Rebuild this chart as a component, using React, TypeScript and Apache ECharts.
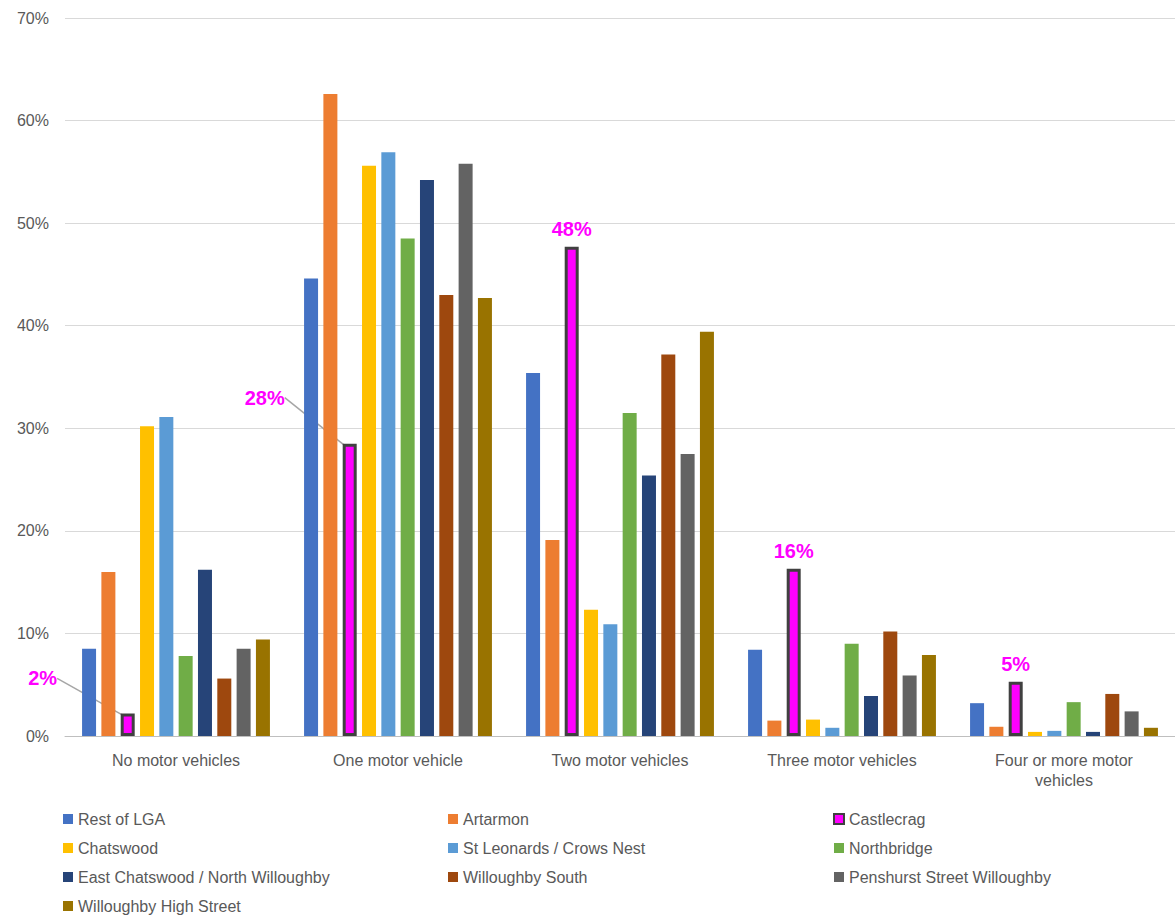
import React, { useEffect, useRef } from 'react';
import * as echarts from 'echarts';

const categories = ['No motor vehicles', 'One motor vehicle', 'Two motor vehicles', 'Three motor vehicles', 'Four or more motor\nvehicles'];

const restOfLga = [8.5, 44.6, 35.4, 8.4, 3.2];
const artarmon = [16.0, 62.6, 19.1, 1.5, 0.9];
const castlecrag = [2.2, 28.5, 47.7, 16.3, 5.3];
const chatswood = [30.2, 55.6, 12.3, 1.6, 0.4];
const stLeonards = [31.1, 56.9, 10.9, 0.8, 0.5];
const northbridge = [7.8, 48.5, 31.5, 9.0, 3.3];
const eastChatswood = [16.2, 54.2, 25.4, 3.9, 0.4];
const willoughbySouth = [5.6, 43.0, 37.2, 10.2, 4.1];
const penshurst = [8.5, 55.8, 27.5, 5.9, 2.4];
const highStreet = [9.4, 42.7, 39.4, 7.9, 0.8];

const castlecragLabels = ['2%', '28%', '48%', '16%', '5%'];

const seriesDefs = [
  { name: 'Rest of LGA', data: restOfLga, color: '#4472c4' },
  { name: 'Artarmon', data: artarmon, color: '#ed7d31' },
  { name: 'Castlecrag', data: castlecrag, color: '#ff00ff' },
  { name: 'Chatswood', data: chatswood, color: '#ffc000' },
  { name: 'St Leonards / Crows Nest', data: stLeonards, color: '#5b9bd5' },
  { name: 'Northbridge', data: northbridge, color: '#70ad47' },
  { name: 'East Chatswood / North Willoughby', data: eastChatswood, color: '#264478' },
  { name: 'Willoughby South', data: willoughbySouth, color: '#9e480e' },
  { name: 'Penshurst Street Willoughby', data: penshurst, color: '#636363' },
  { name: 'Willoughby High Street', data: highStreet, color: '#997300' },
];

const legendCols = [
  ['Rest of LGA', 'Chatswood', 'East Chatswood / North Willoughby', 'Willoughby High Street'],
  ['Artarmon', 'St Leonards / Crows Nest', 'Willoughby South'],
  ['Castlecrag', 'Northbridge', 'Penshurst Street Willoughby'],
];

const App: React.FC = () => {
  const ref = useRef<HTMLDivElement>(null);

  useEffect(() => {
    if (!ref.current) return;
    const chart = echarts.init(ref.current, null, { renderer: 'svg' });
    const font = 'Arial, "Liberation Sans", sans-serif';

    const series = seriesDefs.map((s) => {
      const isCastle = s.name === 'Castlecrag';
      return {
        name: s.name,
        type: 'bar',
        barWidth: 14,
        barGap: '38%',
        data: isCastle
          ? s.data.map((v, i) => ({ value: v, labelLine: { show: i < 2 } }))
          : s.data,
        itemStyle: isCastle
          ? { color: s.color, borderColor: '#404040', borderWidth: 3 }
          : { color: s.color },
        label: isCastle
          ? {
              show: true,
              position: 'top',
              distance: 8,
              color: '#ff00ff',
              fontWeight: 'bold',
              fontSize: 20,
              fontFamily: font,
              formatter: (p: any) => castlecragLabels[p.dataIndex],
            }
          : { show: false },
        labelLine: isCastle ? { show: true, lineStyle: { color: '#a6a6a6', width: 1.5 } } : undefined,
        labelLayout: isCastle
          ? (p: any) => {
              if (p.dataIndex === 0) return { dx: -85, dy: -17 };
              if (p.dataIndex === 1) return { dx: -85, dy: -28 };
              return {};
            }
          : undefined,
      };
    });

    chart.setOption({
      animation: false,
      textStyle: { fontFamily: font },
      grid: { left: 65, right: 0, top: 18, bottom: 183 },
      legend: legendCols.map((col, i) => ({
        data: col,
        orient: 'vertical',
        left: [58, 443, 828][i],
        top: 806,
        itemWidth: 10,
        itemHeight: 10,
        itemGap: 13,
        icon: 'rect',
        textStyle: { fontSize: 16, color: '#595959', fontFamily: font },
      })),
      xAxis: {
        type: 'category',
        data: categories,
        axisTick: { show: false },
        axisLine: { lineStyle: { color: '#bfbfbf' } },
        axisLabel: { fontSize: 16, color: '#595959', margin: 14, lineHeight: 20 },
      },
      yAxis: {
        type: 'value',
        min: 0,
        max: 70,
        interval: 10,
        axisLabel: { formatter: '{value}%', fontSize: 16, color: '#595959', margin: 16 },
        splitLine: { lineStyle: { color: '#d9d9d9' } },
      },
      series,
    });
    return () => chart.dispose();
  }, []);

  return <div ref={ref} style={{ position: 'absolute', left: 0, top: 0, width: 1175, height: 919 }} />;
};

export default App;
